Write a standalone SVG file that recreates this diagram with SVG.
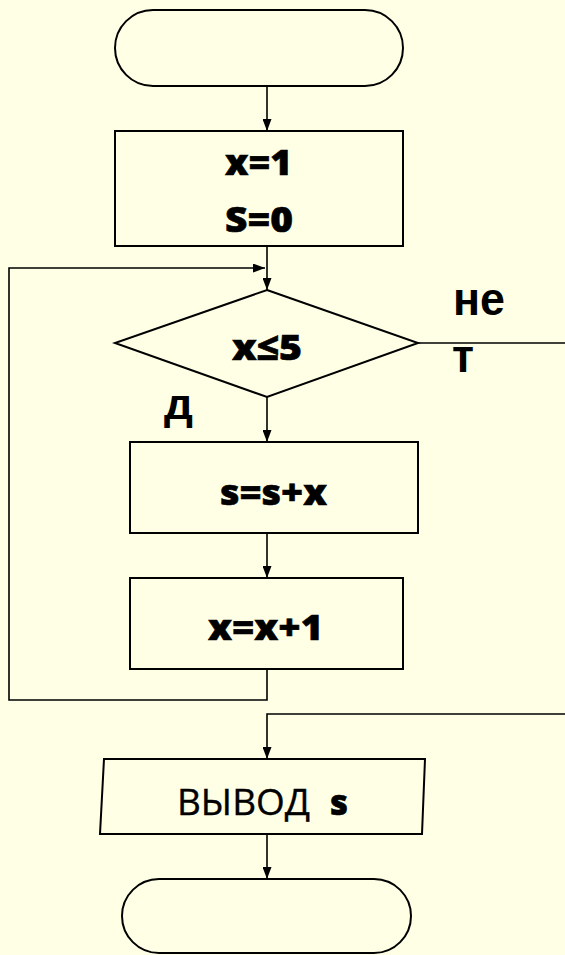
<svg xmlns="http://www.w3.org/2000/svg" width="565" height="955" viewBox="0 0 565 955">
<defs>
<style>
.shape{fill:none;stroke:#000;stroke-width:2}
.conn{fill:none;stroke:#000;stroke-width:1.6}
.t{font-family:"Open Sans","Noto Sans",sans-serif;font-weight:800;font-size:35px;fill:#000;stroke:#000;stroke-width:0.6}
.r{font-family:"Open Sans","Noto Sans",sans-serif;font-weight:400;font-size:36px;fill:#000;stroke:#000;stroke-width:0.4}
.lbl{font-family:"Liberation Sans",Arial,sans-serif;font-weight:700;fill:#000}
</style>
<marker id="ah" markerUnits="userSpaceOnUse" markerWidth="12" markerHeight="9" refX="12" refY="4.5" orient="auto">
<path d="M0,0 L12,4.5 L0,9 z" fill="#000"/>
</marker>
</defs>
<rect width="565" height="955" fill="#FFFFE6"/>
<g id="connectors">
<path class="conn" d="M267,86 V131" marker-end="url(#ah)"/>
<path class="conn" d="M267,246 V290" marker-end="url(#ah)"/>
<path class="conn" d="M267,397 V442" marker-end="url(#ah)"/>
<path class="conn" d="M267,533 V578" marker-end="url(#ah)"/>
<path class="conn" d="M267,669 V700 H9 V268 H265" marker-end="url(#ah)"/>
<path class="conn" d="M418,343 H565"/>
<path class="conn" d="M565,714 H267 V759" marker-end="url(#ah)"/>
<path class="conn" d="M267,834 V879" marker-end="url(#ah)"/>
</g>
<g id="start">
<rect class="shape" x="115" y="10" width="288" height="76" rx="38" ry="38"/>
</g>
<g id="init">
<rect class="shape" x="115" y="131" width="288" height="115"/>
<text class="t" x="225" y="175" textLength="67" lengthAdjust="spacingAndGlyphs">x=1</text>
<text class="t" x="225" y="232" textLength="68" lengthAdjust="spacingAndGlyphs">S=0</text>
</g>
<g id="cond">
<polygon class="shape" points="267,290 418,343 267,397 115,343"/>
<text class="t" x="232" y="360" textLength="70" lengthAdjust="spacingAndGlyphs">x≤5</text>
<text class="lbl" x="453" y="315" font-size="47" textLength="52" lengthAdjust="spacingAndGlyphs">не</text>
<text class="lbl" x="452" y="372" font-size="47" textLength="22" lengthAdjust="spacingAndGlyphs">т</text>
<text class="lbl" x="164" y="419" font-size="42" textLength="29" lengthAdjust="spacingAndGlyphs">д</text>
</g>
<g id="sum">
<rect class="shape" x="130" y="442" width="288" height="91"/>
<text class="t" x="220" y="505" textLength="107" lengthAdjust="spacingAndGlyphs">s=s+x</text>
</g>
<g id="inc">
<rect class="shape" x="130" y="578" width="273" height="91"/>
<text class="t" x="208" y="640" textLength="115" lengthAdjust="spacingAndGlyphs">x=x+1</text>
</g>
<g id="output">
<polygon class="shape" points="104,759 425,759 422,834 100,834"/>
<text class="r" x="177" y="815" textLength="133" lengthAdjust="spacingAndGlyphs">ВЫВОД</text>
<text class="t" x="330" y="815" font-size="35" textLength="18" lengthAdjust="spacingAndGlyphs">s</text>
</g>
<g id="end">
<rect class="shape" x="122" y="879" width="289" height="74" rx="37" ry="37"/>
</g>
</svg>
